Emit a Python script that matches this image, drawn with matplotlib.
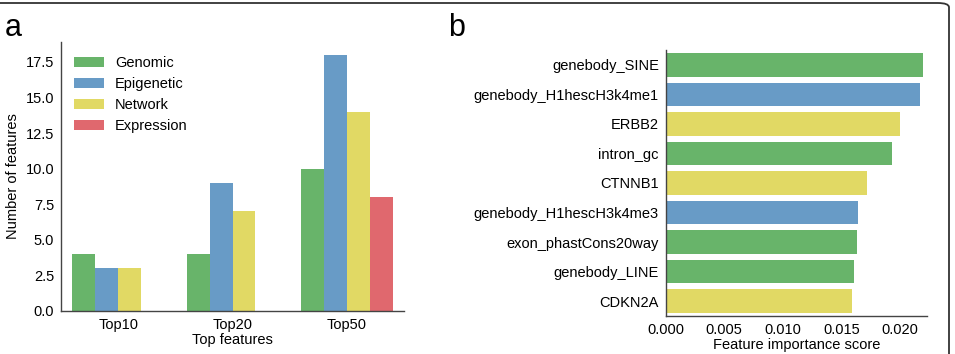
import numpy as np
import matplotlib
matplotlib.use('Agg')
import matplotlib.pyplot as plt
from matplotlib.patches import FancyBboxPatch

plt.rcParams['font.family'] = ['Liberation Sans', 'DejaVu Sans']

# --- data: panel a ---
groups = ['Top10', 'Top20', 'Top50']
categories = ['Genomic', 'Epigenetic', 'Network', 'Expression']
genomic = [4, 4, 10]
epigenetic = [3, 9, 18]
network = [3, 7, 14]
expression = [0, 0, 8]

# --- data: panel b ---
features = ['genebody_SINE', 'genebody_H1hescH3k4me1', 'ERBB2', 'intron_gc',
            'CTNNB1', 'genebody_H1hescH3k4me3', 'exon_phastCons20way',
            'genebody_LINE', 'CDKN2A']
importance = [0.0220, 0.0217, 0.0200, 0.0193, 0.0172, 0.0164, 0.0163, 0.0161, 0.0159]
feature_type = ['Genomic', 'Epigenetic', 'Network', 'Genomic', 'Network',
                'Epigenetic', 'Genomic', 'Genomic', 'Network']

colors = {'Genomic': '#68b46a', 'Epigenetic': '#689bc6',
          'Network': '#e1d964', 'Expression': '#e0686e'}

FS = 10.5

fig = plt.figure(figsize=(9.55, 3.54), dpi=100)

# panel a
ax1 = fig.add_axes([61 / 955, 1 - 311 / 354, (404 - 61) / 955, (311 - 42) / 354])
x = np.arange(len(groups))
w = 0.2
series = [genomic, epigenetic, network, expression]
for i, (cat, vals) in enumerate(zip(categories, series)):
    ax1.bar(x + (i - 1.5) * w, vals, width=w, color=colors[cat], label=cat, linewidth=0)
ax1.set_xlim(-0.5, 2.5)
ax1.set_ylim(0, 18.9)
ax1.set_yticks(np.arange(0, 18, 2.5))
ax1.set_yticklabels([f'{v:.1f}' for v in np.arange(0, 18, 2.5)])
ax1.set_xticks(x)
ax1.set_xticklabels(groups)
ax1.set_xlabel('Top features', fontsize=FS, labelpad=1)
ax1.set_ylabel('Number of features', fontsize=FS)
ax1.tick_params(length=0, labelsize=FS, pad=5)
for s in ['top', 'right']:
    ax1.spines[s].set_visible(False)
for s in ['left', 'bottom']:
    ax1.spines[s].set_color('#444444')
    ax1.spines[s].set_linewidth(1.0)
ax1.legend(loc='upper left', frameon=False, fontsize=FS, handlelength=2.05,
           handleheight=0.7, labelspacing=0.47, handletextpad=0.75,
           bbox_to_anchor=(0, 0.995))

# panel b
ax2 = fig.add_axes([665.7 / 955, 1 - 316 / 354, (927 - 665.7) / 955, (316 - 50) / 354])
y = np.arange(len(features))
ax2.barh(y, importance, height=0.8, color=[colors[t] for t in feature_type], linewidth=0)
ax2.set_ylim(len(features) - 0.5, -0.5)
ax2.set_xlim(0, 0.0223)
ax2.set_yticks(y)
ax2.set_yticklabels(features)
ax2.set_xticks([0, 0.005, 0.010, 0.015, 0.020])
ax2.set_xticklabels(['0.000', '0.005', '0.010', '0.015', '0.020'])
ax2.set_xlabel('Feature importance score', fontsize=FS, labelpad=1)
ax2.tick_params(length=0, labelsize=FS, pad=5)
for s in ['top', 'right']:
    ax2.spines[s].set_visible(False)
for s in ['left', 'bottom']:
    ax2.spines[s].set_color('#444444')
    ax2.spines[s].set_linewidth(1.0)

# panel letters
fig.text(5 / 955, 1 - 36 / 354, 'a', fontsize=22)
fig.text(448 / 955, 1 - 36 / 354, 'b', fontsize=22)

# outer rounded frame (only top and right visible)
frame = FancyBboxPatch((-20 / 955, -20 / 354), (949 + 20) / 955, (353 - 2 + 20) / 354,
                       boxstyle='round,pad=0,rounding_size=0.012',
                       transform=fig.transFigure, fill=False,
                       edgecolor='#333333', linewidth=1.3, clip_on=False)
fig.patches.append(frame)

fig.savefig('out.png', dpi=100)
